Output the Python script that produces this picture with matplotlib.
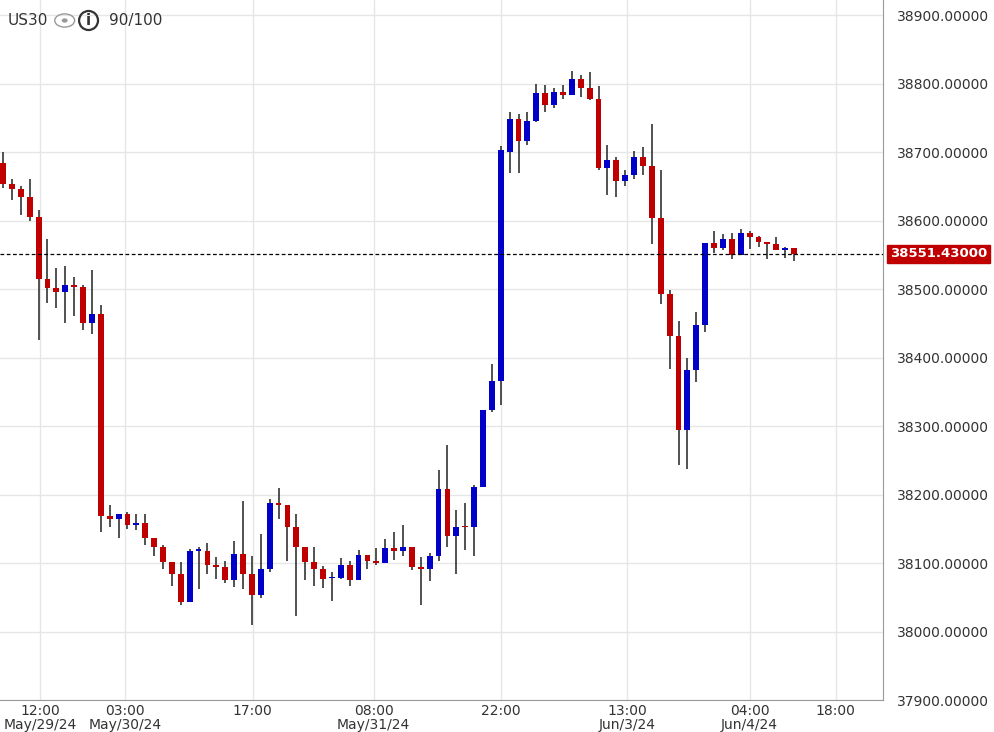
import matplotlib.pyplot as plt
from matplotlib.patches import Ellipse, Circle
import numpy as np

# 蜡烛数据 (开, 高, 低, 收)
opens = [38684, 38653, 38646, 38635, 38605, 38514, 38502, 38495, 38506, 38503,
         38451, 38463, 38168, 38164, 38171, 38155, 38158, 38136, 38123, 38101,
         38084, 38043, 38118, 38118, 38097, 38094, 38075, 38113, 38084, 38053,
         38092, 38187, 38185, 38153, 38123, 38101, 38091, 38078, 38078, 38097,
         38075, 38112, 38103, 38100, 38122, 38117, 38123, 38094, 38091, 38110,
         38208, 38140, 38153, 38153, 38211, 38324, 38366, 38700, 38748, 38716,
         38745, 38786, 38768, 38787, 38784, 38807, 38794, 38777, 38676, 38689,
         38658, 38667, 38693, 38679, 38603, 38493, 38431, 38294, 38382, 38447,
         38567, 38560, 38573, 38550, 38582, 38576, 38569, 38566, 38557, 38560]
highs = [38700, 38660, 38651, 38661, 38615, 38573, 38531, 38534, 38518, 38506,
         38528, 38476, 38185, 38171, 38175, 38172, 38171, 38136, 38127, 38101,
         38101, 38120, 38123, 38129, 38109, 38103, 38132, 38190, 38110, 38143,
         38194, 38210, 38185, 38171, 38123, 38124, 38095, 38087, 38107, 38103,
         38119, 38112, 38122, 38135, 38146, 38155, 38123, 38109, 38114, 38236,
         38272, 38178, 38187, 38214, 38324, 38391, 38709, 38758, 38755, 38758,
         38800, 38798, 38793, 38798, 38819, 38813, 38817, 38797, 38710, 38693,
         38674, 38702, 38708, 38741, 38674, 38499, 38454, 38399, 38466, 38567,
         38585, 38580, 38582, 38588, 38585, 38577, 38569, 38576, 38562, 38560]
lows = [38647, 38630, 38608, 38600, 38425, 38479, 38472, 38450, 38460, 38440,
        38434, 38145, 38153, 38137, 38149, 38148, 38127, 38110, 38091, 38066,
        38039, 38043, 38062, 38084, 38077, 38071, 38065, 38062, 38010, 38049,
        38087, 38165, 38103, 38022, 38075, 38066, 38064, 38045, 38077, 38066,
        38075, 38091, 38097, 38100, 38104, 38110, 38090, 38039, 38074, 38103,
        38124, 38084, 38119, 38110, 38211, 38320, 38331, 38670, 38670, 38710,
        38744, 38758, 38765, 38777, 38784, 38781, 38776, 38674, 38638, 38635,
        38651, 38660, 38667, 38566, 38478, 38383, 38243, 38237, 38365, 38438,
        38553, 38557, 38544, 38550, 38559, 38562, 38544, 38557, 38546, 38541]
closes = [38653, 38646, 38635, 38605, 38514, 38502, 38495, 38506, 38503, 38451,
          38463, 38168, 38164, 38171, 38155, 38158, 38136, 38123, 38101, 38084,
          38043, 38118, 38120, 38097, 38094, 38075, 38113, 38084, 38053, 38092,
          38187, 38185, 38153, 38123, 38101, 38091, 38077, 38079, 38097, 38075,
          38112, 38103, 38100, 38122, 38117, 38123, 38094, 38091, 38110, 38208,
          38140, 38153, 38152, 38211, 38324, 38366, 38703, 38748, 38716, 38745,
          38786, 38768, 38787, 38784, 38807, 38794, 38777, 38676, 38689, 38658,
          38667, 38693, 38679, 38603, 38493, 38431, 38294, 38382, 38447, 38567,
          38560, 38573, 38550, 38582, 38576, 38569, 38566, 38557, 38560, 38551.43]

last_price = 38551.43
tick_pos = [4.2, 13.7, 28.1, 41.7, 56.0, 70.2, 84.0, 93.7]
tick_labels = ['12:00\nMay/29/24', '03:00\nMay/30/24', '17:00', '08:00\nMay/31/24',
               '22:00', '13:00\nJun/3/24', '04:00\nJun/4/24', '18:00']
y_ticks = [37900, 38000, 38100, 38200, 38300, 38400, 38500, 38600, 38700, 38800, 38900]

UP = '#0000C8'
DOWN = '#C00000'

fig = plt.figure(figsize=(9.95, 7.32), dpi=100)
ax = fig.add_axes([0.0, 0.0437, 0.8874, 0.9563])

x = np.arange(len(opens))
o = np.array(opens); c = np.array(closes)
colors = [UP if cc >= oo else DOWN for oo, cc in zip(o, c)]
ax.vlines(x, lows, highs, color='#333333', linewidth=1.2, zorder=2)
bottom = np.minimum(o, c)
height = np.maximum(np.abs(c - o), 1.5)
ax.bar(x, height, bottom=bottom, width=0.66, color=colors, zorder=3)

ax.axhline(last_price, color='black', linestyle=(0, (3, 2)), linewidth=0.9, zorder=4)

ax.set_xlim(-0.34, 99)
ax.set_ylim(37909, 38922)
ax.set_yticks(y_ticks)
ax.set_xticks(tick_pos)
ax.set_xticklabels(tick_labels, fontsize=10, color='#333333', linespacing=0.95)
ax.yaxis.tick_right()
ax.set_yticklabels([f'{v:.5f}' for v in y_ticks], fontsize=10, color='#333333')
ax.tick_params(axis='y', length=0, pad=10)
ax.tick_params(axis='x', length=0, pad=3)
ax.grid(True, color='#e6e6e6', linewidth=1)
ax.set_axisbelow(True)
for s in ['top', 'left']:
    ax.spines[s].set_visible(False)
ax.spines['right'].set_color('#999999')
ax.spines['bottom'].set_color('#999999')

# 最新价标签
ax.annotate(f'{last_price:.5f}', xy=(1.0, last_price), xycoords=('axes fraction', 'data'),
            xytext=(5, 0), textcoords='offset points', ha='left', va='center',
            fontsize=9.5, fontweight='bold', color='white',
            bbox=dict(boxstyle='square,pad=0.2', fc=DOWN, ec=DOWN))

# 左上角标题
fig.text(0.008, 0.972, 'US30', fontsize=11, color='#333333', va='center')
fig.patches.append(Ellipse((0.065, 0.972), 0.02, 0.018, transform=fig.transFigure,
                           fill=False, ec='#999999', lw=1))
fig.patches.append(Circle((0.065, 0.972), 0.003, transform=fig.transFigure, fc='#999999'))
fig.patches.append(Ellipse((0.089, 0.972), 0.019, 0.026, transform=fig.transFigure,
                           fill=False, ec='#333333', lw=1.6))
fig.text(0.089, 0.972, 'i', fontsize=11, fontweight='bold', color='#333333',
         va='center', ha='center')
fig.text(0.11, 0.972, '90/100', fontsize=11, color='#333333', va='center')

fig.savefig('out.png', dpi=100)
